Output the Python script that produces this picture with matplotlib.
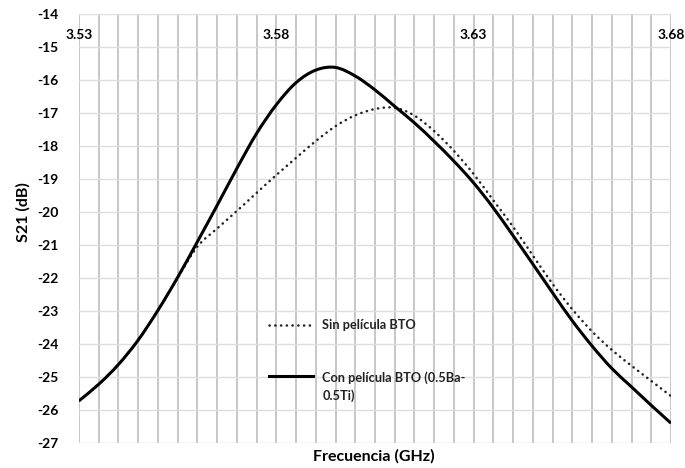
import matplotlib
matplotlib.use("Agg")
import matplotlib.pyplot as plt
from matplotlib.path import Path
from matplotlib.patches import PathPatch
from matplotlib.lines import Line2D
import numpy as np

# Frequency sweep (GHz) and S21 (dB)
freq = [3.530, 3.535, 3.540, 3.545, 3.550, 3.555, 3.560, 3.565, 3.570, 3.575,
        3.580, 3.585, 3.590, 3.595, 3.600, 3.605, 3.610, 3.615, 3.620, 3.625,
        3.630, 3.635, 3.640, 3.645, 3.650, 3.655, 3.660, 3.665, 3.670, 3.675,
        3.680]

s21_sin = [-25.72, -25.22, -24.62, -23.88, -22.98, -22.00, -21.05, -20.50, -19.97, -19.42,
           -18.88, -18.36, -17.85, -17.40, -17.07, -16.88, -16.84, -17.08, -17.55, -18.15,
           -18.85, -19.65, -20.45, -21.32, -22.18, -22.95, -23.62, -24.18, -24.66, -25.12,
           -25.58]

s21_con = [-25.72, -25.22, -24.62, -23.88, -22.98, -21.98, -20.90, -19.80, -18.68, -17.62,
           -16.75, -16.08, -15.70, -15.62, -15.88, -16.30, -16.80, -17.30, -17.86, -18.46,
           -19.12, -19.88, -20.72, -21.58, -22.45, -23.30, -24.06, -24.74, -25.30, -25.86,
           -26.40]

label_sin = "Sin película BTO"
label_con = "Con película BTO (0.5Ba-\n0.5Ti)"

xtick_vals = [3.53, 3.58, 3.63, 3.68]
ytick_vals = list(range(-14, -28, -1))


def smooth_path(x, y):
    """Excel-like smoothed line: Catmull-Rom segments as cubic Beziers."""
    p = np.column_stack([x, y])
    ext = np.vstack([p[0], p, p[-1]])
    verts = [p[0]]
    codes = [Path.MOVETO]
    for i in range(len(p) - 1):
        p0, p1, p2, p3 = ext[i], ext[i + 1], ext[i + 2], ext[i + 3]
        verts += [p1 + (p2 - p0) / 6.0, p2 - (p3 - p1) / 6.0, p2]
        codes += [Path.CURVE4] * 3
    return Path(verts, codes)


plt.rcParams['font.family'] = ['Lato', 'DejaVu Sans']

fig = plt.figure(figsize=(6.85, 4.68), dpi=100)
ax = fig.add_axes([0.1153, 0.0534, 0.8643, 0.9167])

dot_style = dict(color='#222222', lw=1.8, linestyle=(0, (0.1, 2.2)))
solid_style = dict(color='black', lw=2.2, linestyle='-')

ax.add_patch(PathPatch(smooth_path(freq, s21_sin), fill=False, edgecolor=dot_style['color'],
                       lw=dot_style['lw'], linestyle=dot_style['linestyle'],
                       capstyle='round', zorder=3))
ax.add_patch(PathPatch(smooth_path(freq, s21_con), fill=False, edgecolor=solid_style['color'],
                       lw=solid_style['lw'], capstyle='butt', zorder=4))

ax.set_xlim(3.53, 3.68)
ax.set_ylim(-27, -14)

# vertical grid every 0.005 GHz, horizontal every 1 dB
ax.set_xticks(np.round(np.arange(3.53, 3.6801, 0.005), 3))
ax.set_xticklabels([])
ax.set_yticks(ytick_vals)
ax.set_yticklabels([str(v) for v in ytick_vals], fontweight='bold', fontsize=10)
ax.tick_params(axis='both', length=0)
ax.tick_params(axis='y', pad=15)
ax.grid(axis='x', color='#b8b8b8', lw=1.1, zorder=0)
ax.grid(axis='y', color='#dedede', lw=1.0, zorder=0)
for sp in ax.spines.values():
    sp.set_visible(False)

# frequency labels sit just under the top line (axis crosses at -14)
for f in xtick_vals:
    ax.text(f, -14.65, f"{f:.2f}", ha='center', va='center', fontsize=10,
            fontweight='bold', clip_on=False, zorder=5)

fig.text(0.546, 0.024, "Frecuencia (GHz)", ha='center', va='center',
         fontsize=11.5, fontweight='bold')
fig.text(0.034, 0.547, "S21 (dB)", ha='center', va='center', rotation=90,
         fontsize=11.5, fontweight='bold')

handles = [Line2D([], [], dash_capstyle='round', **dot_style),
           Line2D([], [], **solid_style)]
leg = ax.legend(handles, [label_sin, label_con], loc='upper left',
                bbox_to_anchor=(0.302, 0.315), frameon=False,
                handlelength=3.4, handletextpad=0.75, labelspacing=3.1,
                prop={'size': 9.2, 'weight': 'bold'})
for t in leg.get_texts():
    t.set_color('#222222')
    t.set_linespacing(1.5)
# Excel puts the marker level with the first line of a wrapped label
h2 = leg.get_lines()[1]
h2.set_ydata(np.asarray(h2.get_ydata()) + 7.5)

fig.savefig("out.png", dpi=100)
